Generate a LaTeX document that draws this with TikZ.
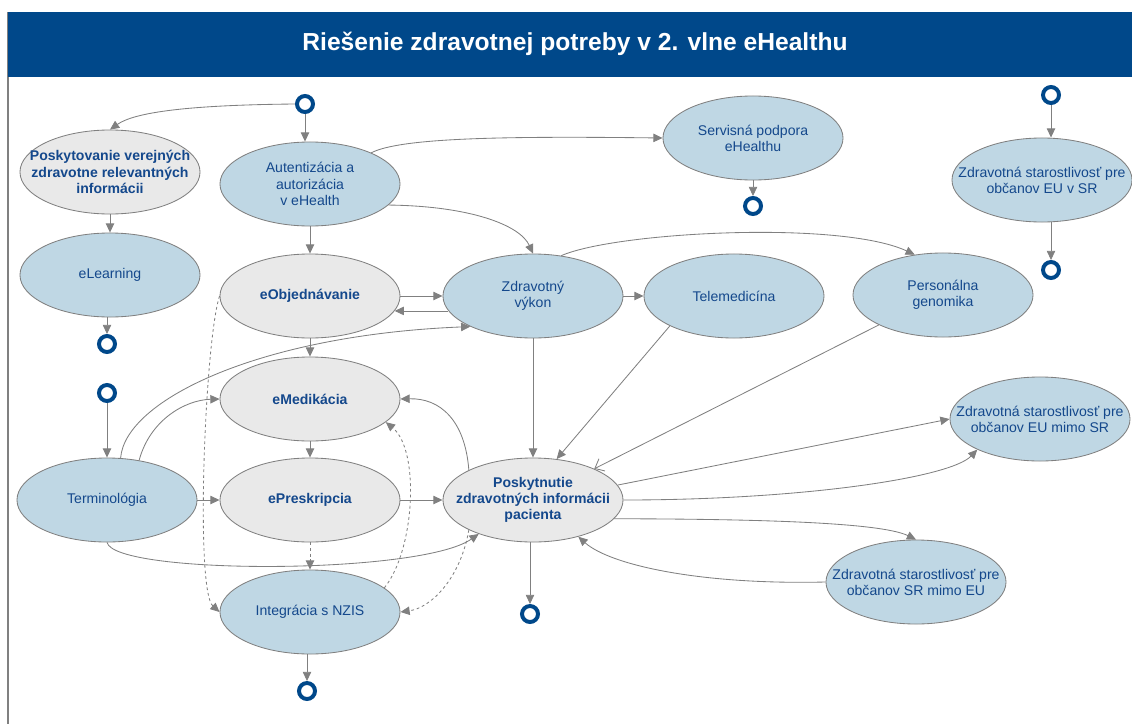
\documentclass[tikz,border=0pt]{standalone}
\usepackage{fontspec}
\setmainfont{Liberation Sans}
\usetikzlibrary{shapes.geometric,arrows.meta}

\definecolor{hdrblue}{RGB}{0,72,138}
\definecolor{nodeblue}{RGB}{191,215,228}
\definecolor{nodegray}{RGB}{233,233,233}
\definecolor{edgegray}{RGB}{128,128,128}
\definecolor{txtblue}{RGB}{20,72,140}

\begin{document}
\begin{tikzpicture}[x=0.025cm,y=-0.025cm,
  bluenode/.style={ellipse,draw=edgegray,line width=0.6pt,fill=nodeblue,text=txtblue,
    minimum width=4.5cm,minimum height=2.1cm,inner xsep=-30pt,inner ysep=0pt,align=center,
    font=\fontsize{10}{11.5}\selectfont},
  graynode/.style={bluenode,fill=nodegray,font=\fontsize{10}{11.5}\selectfont\bfseries},
  endring/.style={circle,draw=hdrblue,line width=2.8pt,fill=white,minimum size=0.4cm,
    inner sep=0pt,outer sep=1.4pt},
  arr/.style={draw=edgegray,line width=0.6pt,-{Triangle[length=2.3mm,width=2.1mm]}},
  darr/.style={arr,dash pattern=on 2pt off 2pt},
  openarr/.style={draw=edgegray,line width=0.6pt,-{Straight Barb[length=2mm,width=3.4mm]}}]
\useasboundingbox (0,0) rectangle (1132,724);
% frame and header
\draw[edgegray,line width=0.8pt] (8,12) -- (8,724);
\fill[hdrblue] (8,12) rectangle (1132,77);
\node[text=white,font=\fontsize{17.5}{20}\selectfont\bfseries] (title) at (575,44)
  {Riešenie zdravotnej potreby v 2. vlne eHealthu};

% nodes
\node[graynode] (pv) at (110,172) {Poskytovanie verejných\\zdravotne relevantných\\informácii};
\node[bluenode] (elearn) at (110,275) {eLearning};
\node[bluenode] (auth) at (310,184) {Autentizácia a\\autorizácia\\v eHealth};
\node[graynode] (eobj) at (310,296) {eObjednávanie};
\node[bluenode] (vykon) at (533,296) {Zdravotný\\výkon};
\node[bluenode] (tele) at (734,296) {Telemedicína};
\node[bluenode] (serv) at (753,138) {Servisná podpora\\eHealthu};
\node[bluenode] (genom) at (943,295) {Personálna\\genomika};
\node[bluenode] (euvsr) at (1042,180) {Zdravotná starostlivosť pre\\občanov EU v SR};
\node[bluenode] (term) at (107,500) {Terminológia};
\node[graynode] (emed) at (310,399) {eMedikácia};
\node[graynode] (epres) at (310,500) {ePreskripcia};
\node[bluenode] (nzis) at (310,612) {Integrácia s NZIS};
\node[graynode] (pzi) at (533,500) {Poskytnutie\\zdravotných informácii\\pacienta};
\node[bluenode] (eumsr) at (1040,419) {Zdravotná starostlivosť pre\\občanov EU mimo SR};
\node[bluenode] (srmeu) at (916,582) {Zdravotná starostlivosť pre\\občanov SR mimo EU};

% start and end points
\node[endring] (c1) at (305,104) {};
\node[endring] (c2) at (107,344) {};
\node[endring] (c3) at (107,393) {};
\node[endring] (c4) at (753,206) {};
\node[endring] (c5) at (1051,95) {};
\node[endring] (c6) at (1051,270) {};
\node[endring] (c7) at (307,691) {};
\node[endring] (c8) at (530,614) {};

% connectors
\draw[arr] (c1.west) .. controls (190,105) and (135,112) .. (pv.north);
\draw[arr] (c1.south) -- (c1.south |- auth.north);
\draw[arr] (pv) -- (elearn);
\draw[arr] (elearn.south -| c2) -- (c2);
\draw[arr] (auth.27) .. controls (400,138) and (500,136) .. (serv.west);
\draw[arr] (auth.-15) .. controls (470,206) and (520,225) .. (vykon.north);
\draw[arr] (auth) -- (eobj);
\draw[arr] (eobj.east) -- (vykon.west);
\draw[arr] (vykon.190) -- (eobj.350);
\draw[arr] (eobj) -- (emed);
\draw[arr] (vykon.east) -- (tele.west);
\draw[arr] (vykon.55) .. controls (615,232) and (840,220) .. (genom.125);
\draw[arr] (vykon) -- (pzi);
\draw[arr] (tele.205) -- (pzi.60);
\draw[openarr] (genom.205) -- (pzi.27);
\draw[arr] (serv) -- (c4);
\draw[arr] (c5) -- (c5 |- euvsr.north);
\draw[arr] (euvsr.south -| c6) -- (c6);
\draw[arr] (c3) -- (term);
\draw[arr] (term.72) .. controls (125,400) and (260,335) .. (vykon.206);
\draw[arr] (term.51) .. controls (150,420) and (185,400) .. (emed.west);
\draw[arr] (term.east) -- (epres.west);
\draw[arr] (term.south) .. controls (115,575) and (420,575) .. (pzi.212);
\draw[arr] (emed) -- (epres);
\draw[darr] (epres) -- (nzis);
\draw[arr] (epres.east) -- (pzi.west);
\draw[arr] (pzi.155) .. controls (465,420) and (440,398) .. (emed.east);
\draw[darr] (eobj.west) .. controls (205,340) and (195,590) .. (nzis.west);
\draw[darr] (nzis.18) .. controls (415,550) and (420,450) .. (emed.343);
\draw[darr] (pzi.205) .. controls (460,580) and (430,608) .. (nzis.east);
\draw[arr] (pzi.10) -- (eumsr.west);
\draw[arr] (pzi.east) .. controls (800,500) and (950,478) .. (eumsr.206);
\draw[arr] (pzi.347) .. controls (750,519) and (880,522) .. (srmeu.north);
\draw[arr] (srmeu.west) .. controls (700,585) and (610,565) .. (pzi.321);
\draw[arr] (pzi.south -| c8) -- (c8);
\draw[arr] (nzis.south -| c7) -- (c7);
\end{tikzpicture}
\end{document}
